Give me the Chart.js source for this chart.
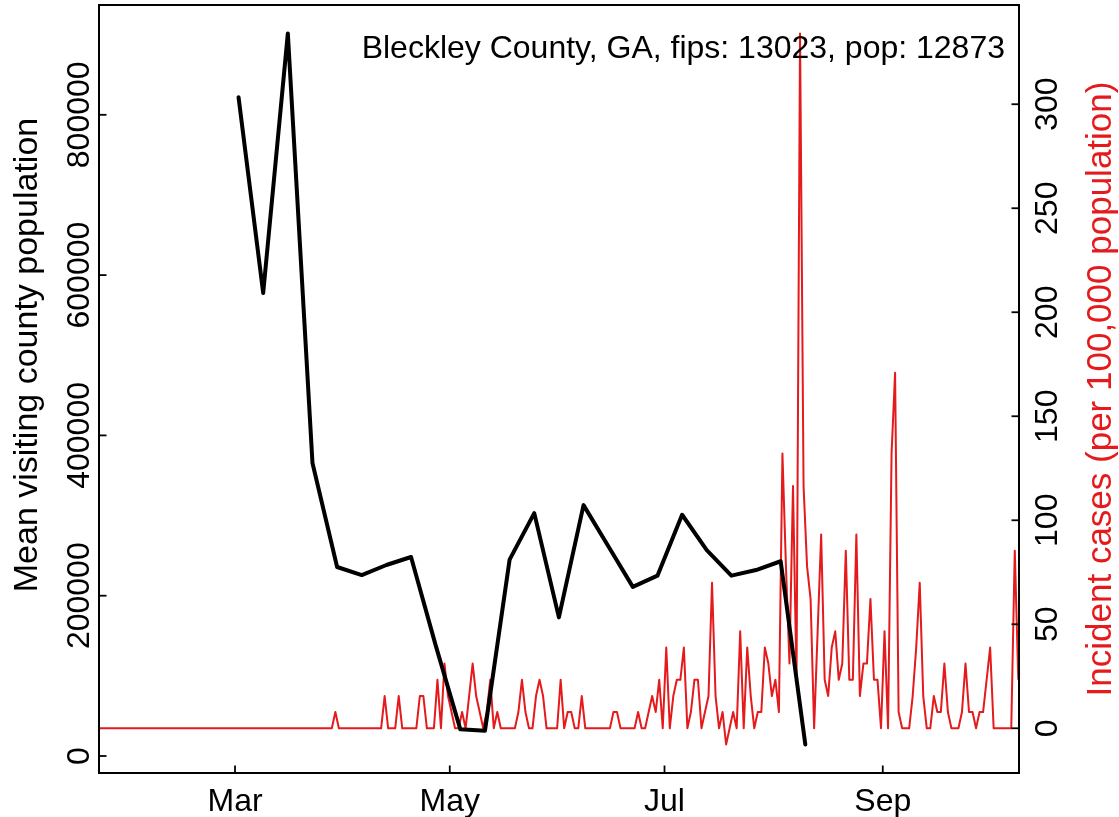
<!DOCTYPE html>
<html>
<head>
<meta charset="utf-8">
<script src="https://cdn.jsdelivr.net/npm/chart.js@4.4.0/dist/chart.umd.min.js"></script>
<style>
    html, body { margin: 0; padding: 0; background: #ffffff; }
    #wrap { width: 1119px; height: 817px; }
</style>
</head>
<body>
<div id="wrap"><canvas id="visitsChart" width="1119" height="817"></canvas></div>
<script>
// ---- data ----
const countyLabel = 'Bleckley County, GA, fips: 13023, pop: 12873';
const visitAxisTitle = 'Mean visiting county population';
const caseAxisTitle = 'Incident cases (per 100,000 population)';

// daily incident cases per 100,000, starting 2020-01-22
const caseStartDate = '2020-01-22';
const incidentCases = [
    0, 0, 0, 0, 0, 0, 0, 0, 0, 0,
    0, 0, 0, 0, 0, 0, 0, 0, 0, 0,
    0, 0, 0, 0, 0, 0, 0, 0, 0, 0,
    0, 0, 0, 0, 0, 0, 0, 0, 0, 0,
    0, 0, 0, 0, 0, 0, 0, 0, 0, 0,
    0, 0, 0, 0, 0, 0, 0, 0, 0, 0,
    0, 0, 0, 0, 0, 0, 0, 7.8, 0, 0,
    0, 0, 0, 0, 0, 0, 0, 0, 0, 0,
    0, 15.5, 0, 0, 0, 15.5, 0, 0, 0, 0,
    0, 15.5, 15.5, 0, 0, 0, 23.3, 0, 31.1, 15.5,
    7.8, 0, 0, 7.8, 0, 15.5, 31.1, 15.5, 7.8, 0,
    7.8, 23.3, 0, 7.8, 0, 0, 0, 0, 0, 7.8,
    23.3, 7.8, 0, 0, 15.5, 23.3, 15.5, 0, 0, 0,
    0, 23.3, 0, 7.8, 7.8, 0, 0, 15.5, 0, 0,
    0, 0, 0, 0, 0, 0, 7.8, 7.8, 0, 0,
    0, 0, 0, 7.8, 0, 0, 7.8, 15.5, 7.8, 23.3,
    0, 38.8, 0, 15.5, 23.3, 23.3, 38.8, 0, 7.8, 23.3,
    23.3, 0, 7.8, 15.5, 69.9, 15.5, 0, 7.8, -7.8, 0,
    7.8, 0, 46.6, 0, 38.8, 15.5, 0, 7.8, 7.8, 38.8,
    31.1, 15.5, 23.3, 7.8, 132.1, 77.7, 31.1, 116.5, 23.3, 334.0,
    116.5, 77.7, 62.1, 0, 46.6, 93.2, 23.3, 15.5, 38.8, 46.6,
    23.3, 31.1, 85.4, 23.3, 23.3, 93.2, 15.5, 31.1, 31.1, 62.1,
    23.3, 23.3, 0, 46.6, 0, 132.1, 170.9, 7.8, 0, 0,
    0, 15.5, 38.8, 69.9, 15.5, 0, 0, 15.5, 7.8, 7.8,
    31.1, 7.8, 0, 0, 0, 7.8, 31.1, 7.8, 7.8, 0,
    7.8, 7.8, 23.3, 38.8, 0, 0, 0, 0, 0, 0,
    85.4, 23.3
];

// weekly mean visiting county population
const visitWeeks = [
    '2020-03-02', '2020-03-09', '2020-03-16', '2020-03-23', '2020-03-30', '2020-04-06',
    '2020-04-13', '2020-04-20', '2020-04-27', '2020-05-04', '2020-05-11', '2020-05-18',
    '2020-05-25', '2020-06-01', '2020-06-08', '2020-06-15', '2020-06-22', '2020-06-29',
    '2020-07-06', '2020-07-13', '2020-07-20', '2020-07-27', '2020-08-03', '2020-08-10'
];
const visitPopulation = [
    822000, 577700, 901500, 365600, 235800, 225800,
    238300, 248300, 138000, 33300, 31600, 245000,
    303000, 173000, 313000, 262000, 211000, 225000,
    301000, 257000, 225000, 232000, 243000, 14300
];

const monthTicks = ['2020-03-01', '2020-05-01', '2020-07-01', '2020-09-01'];
const monthLabels = ['Mar', 'May', 'Jul', 'Sep'];
const visitTicks = [0, 200000, 400000, 600000, 800000];
const caseTicks = [0, 50, 100, 150, 200, 250, 300];

// ---- helpers ----
const DAY_MS = 86400000;
const dayNumber = (s) => (Date.parse(s + 'T00:00:00Z') - Date.parse(caseStartDate + 'T00:00:00Z')) / DAY_MS;

const CASE_RED = '#E41A1C';
const FAMILY = '"Liberation Sans", Arial, Helvetica, sans-serif';
const FONT = '32px ' + FAMILY;

const casePoints = incidentCases.map((v, i) => ({ x: i + 0.5, y: v }));
const visitPoints = visitPopulation.map((v, i) => ({ x: dayNumber(visitWeeks[i]), y: v }));

// box, inward ticks, rotated labels and the county note (R base-graphics look)
const framePlugin = {
    id: 'frame',
    afterDraw(chart) {
        const { ctx, chartArea: area, scales } = chart;
        const tick = 7.5;
        ctx.save();
        ctx.strokeStyle = '#000';
        ctx.lineWidth = 2;
        ctx.strokeRect(area.left, area.top, area.right - area.left, area.bottom - area.top);

        ctx.lineWidth = 1.8;
        ctx.font = FONT;
        ctx.fillStyle = '#000';

        // x axis
        ctx.textAlign = 'center';
        ctx.textBaseline = 'alphabetic';
        monthTicks.forEach((d, i) => {
            const x = scales.x.getPixelForValue(dayNumber(d));
            ctx.beginPath();
            ctx.moveTo(x, area.bottom);
            ctx.lineTo(x, area.bottom - tick);
            ctx.stroke();
            ctx.fillText(monthLabels[i], x, 811);
        });

        // left axis
        visitTicks.forEach(v => {
            const y = scales.yVisits.getPixelForValue(v);
            ctx.beginPath();
            ctx.moveTo(area.left, y);
            ctx.lineTo(area.left + tick, y);
            ctx.stroke();
            ctx.save();
            ctx.translate(89, y);
            ctx.rotate(-Math.PI / 2);
            ctx.fillText(String(v), 0, 0);
            ctx.restore();
        });

        // right axis
        caseTicks.forEach(v => {
            const y = scales.yCases.getPixelForValue(v);
            ctx.beginPath();
            ctx.moveTo(area.right, y);
            ctx.lineTo(area.right - tick, y);
            ctx.stroke();
            ctx.save();
            ctx.translate(1057, y);
            ctx.rotate(-Math.PI / 2);
            ctx.fillText(String(v), 0, 0);
            ctx.restore();
        });

        ctx.save();
        ctx.font = '34px ' + FAMILY;
        ctx.translate(37, 355);
        ctx.rotate(-Math.PI / 2);
        ctx.fillText(visitAxisTitle, 0, 0);
        ctx.restore();

        ctx.save();
        ctx.font = '35px ' + FAMILY;
        ctx.fillStyle = CASE_RED;
        ctx.translate(1111, 389);
        ctx.rotate(-Math.PI / 2);
        ctx.fillText(caseAxisTitle, 0, 0);
        ctx.restore();

        ctx.textAlign = 'right';
        ctx.fillText(countyLabel, 1005, 58);
        ctx.restore();
    }
};

new Chart(document.getElementById('visitsChart'), {
    type: 'line',
    data: {
        datasets: [{
            label: 'Mean visiting county population',
            data: visitPoints,
            yAxisID: 'yVisits',
            borderColor: '#000000',
            borderWidth: 4,
            borderCapStyle: 'round',
            borderJoinStyle: 'round',
            pointRadius: 0,
            tension: 0
        }, {
            label: 'Incident cases',
            data: casePoints,
            yAxisID: 'yCases',
            borderColor: CASE_RED,
            borderWidth: 2,
            borderJoinStyle: 'round',
            pointRadius: 0,
            tension: 0
        }]
    },
    options: {
        responsive: false,
        animation: false,
        parsing: false,
        layout: { padding: { left: 99, right: 100, top: 5, bottom: 44 } },
        plugins: {
            legend: { display: false },
            tooltip: { enabled: false },
            title: { display: false }
        },
        scales: {
            x: { type: 'linear', min: 0.36, max: 261.7, display: false },
            yVisits: { type: 'linear', position: 'left', min: -21200, max: 937000, display: false },
            yCases: { type: 'linear', position: 'right', min: -21.5, max: 347.7, display: false }
        }
    },
    plugins: [framePlugin]
});
</script>
</body>
</html>
